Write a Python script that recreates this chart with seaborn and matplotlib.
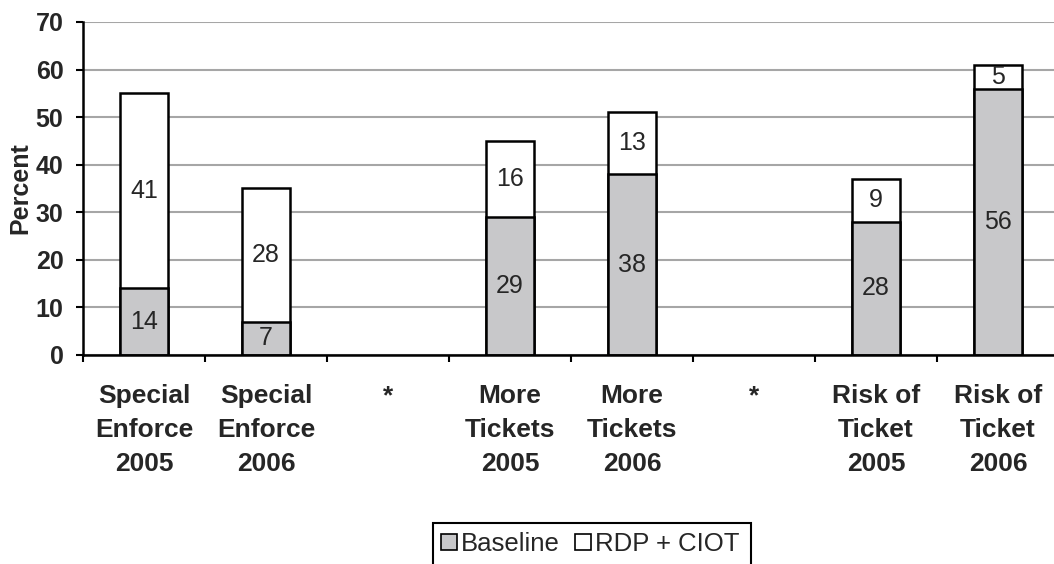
import numpy as np
import pandas as pd
import matplotlib
matplotlib.use("Agg")
import matplotlib.pyplot as plt
from matplotlib.patches import Patch, Rectangle
from matplotlib.ticker import FixedLocator
import seaborn as sns

# Survey results: percent agreeing, baseline vs. after the RDP + CIOT campaigns
categories = [
    "Special\nEnforce\n2005", "Special\nEnforce\n2006", "*",
    "More\nTickets\n2005", "More\nTickets\n2006", "*",
    "Risk of\nTicket\n2005", "Risk of\nTicket\n2006",
]
baseline = [14, 7, np.nan, 29, 38, np.nan, 28, 56]
rdp_ciot = [41, 28, np.nan, 16, 13, np.nan, 9, 5]
y_ticks = [0, 10, 20, 30, 40, 50, 60, 70]

GRAY = "#c8c8ca"

sns.set_theme(style="white")
plt.rcParams["font.family"] = ["Liberation Sans", "DejaVu Sans"]

df = pd.DataFrame({
    "pos": list(range(len(categories))),
    "baseline": baseline,
    "rdp": rdp_ciot,
})
df["total"] = df["baseline"] + df["rdp"]
order = list(range(len(categories)))

fig = plt.figure(figsize=(10.54, 5.64), dpi=100)
ax = fig.add_axes([0.0787, 0.3706, 0.926, 0.5904])

bar_kw = dict(order=order, width=0.4, edgecolor="black", linewidth=1.8,
              errorbar=None, ax=ax, zorder=3)
sns.barplot(data=df, x="pos", y="total", color="white", saturation=1, **bar_kw)
sns.barplot(data=df, x="pos", y="baseline", color=GRAY, saturation=1, **bar_kw)

# value labels in the middle of each stacked segment
for i, (b, r) in enumerate(zip(baseline, rdp_ciot)):
    if np.isnan(b):
        continue
    ax.text(i, b / 2, f"{int(b)}", ha="center", va="center", fontsize=18, zorder=4)
    ax.text(i, b + r / 2, f"{int(r)}", ha="center", va="center", fontsize=18, zorder=4)

ax.set_xlim(-0.5, len(categories) - 0.5)
ax.set_ylim(0, 70)
ax.set_yticks(y_ticks)
ax.set_yticklabels([str(v) for v in y_ticks], fontsize=18, fontweight="bold")
ax.set_xticks(order)
ax.set_xticklabels(categories, fontsize=19, fontweight="bold", linespacing=1.51)
ax.xaxis.set_minor_locator(FixedLocator(np.arange(-0.5, len(categories), 1.0)))

ax.tick_params(axis="x", which="major", length=0, pad=21)
ax.tick_params(axis="x", which="minor", direction="out", length=5, width=1.5,
               color="black", bottom=True)
ax.tick_params(axis="y", which="major", direction="out", length=5, width=1.5,
               color="black", left=True, pad=9)

ax.set_xlabel("")
ax.set_ylabel("Percent", fontsize=18, fontweight="bold", labelpad=2)

ax.yaxis.grid(True, color="#a6a6a6", linewidth=1.5)
ax.xaxis.grid(False)
ax.set_axisbelow(True)

for side in ("top", "right"):
    ax.spines[side].set_visible(False)
for side in ("left", "bottom"):
    ax.spines[side].set_color("black")
    ax.spines[side].set_linewidth(1.8)
    ax.spines[side].set_zorder(5)

handles = [
    Patch(facecolor=GRAY, edgecolor="black", linewidth=1.2, label="Baseline"),
    Patch(facecolor="white", edgecolor="black", linewidth=1.2, label="RDP + CIOT"),
]
W, H = fig.get_size_inches() * fig.dpi
fig.legend(handles=handles, loc="center left", bbox_to_anchor=(441 / W, 1 - 544 / H),
           ncol=2, frameon=False, fontsize=18.5,
           handlelength=0.62, handleheight=0.62, handletextpad=0.16,
           columnspacing=0.6, borderpad=0, borderaxespad=0)
# open-bottomed legend box running off the lower edge of the figure
fig.add_artist(Rectangle((433 / W, -0.05), (751 - 433) / W, (1 - 523 / H) + 0.05,
                         transform=fig.transFigure, fill=False,
                         edgecolor="black", linewidth=1.5))

fig.savefig("out.png", dpi=100)
